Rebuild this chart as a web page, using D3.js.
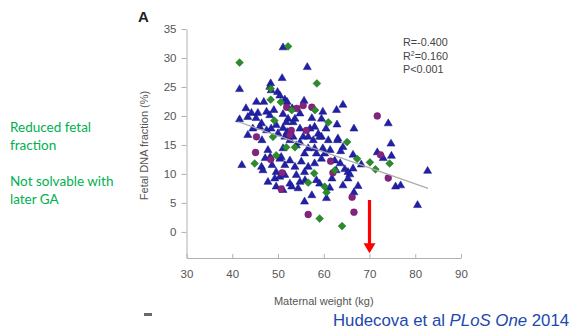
<!DOCTYPE html>
<html>
<head>
<meta charset="utf-8">
<script src="https://cdn.jsdelivr.net/npm/d3@7"></script>
<style>
  body { margin: 0; background: #fff; }
  svg { display: block; }
</style>
</head>
<body>
<div id="chart"></div>
<script>
// maternal weight (kg) / fetal DNA fraction (%) per group
const blueWeight = [51.1,56.4,50.9,41.6,48.4,48.2,48.5,49.9,50.4,45.3,46.9,51.5,52.0,55.7,59.8,44.2,45.6,43.4,47.5,48.2,
  51.1,52.2,53.7,51.8,53.3,41.6,59.5,46.4,46.0,44.5,43.4,47.5,48.5,49.6,54.8,58.0,58.8,59.5,53.3,56.6,
  64.2,62.8,62.9,66.6,74.1,63.1,54.8,57.4,50.0,51.1,51.5,55.5,57.7,59.1,56.6,58.0,55.8,58.4,59.8,60.2,
  50.4,50.7,42.1,46.4,46.7,52.6,55.1,53.7,56.6,55.8,58.0,59.5,49.6,49.3,50.4,51.5,54.0,54.8,52.6,53.0,
  58.4,59.1,49.6,54.4,60.6,55.8,48.7,51.5,47.8,61.4,63.0,64.2,63.7,74.7,62.4,66.4,68.2,71.7,73.0,74.8,
  64.6,65.3,65.7,66.4,65.3,82.7,61.3,64.2,67.5,75.7,76.8,66.6,80.5,63.6,62.7,52.6,54.0,51.1,54.8,57.0,
  60.5,61.0,45.2,49.1,53.1,43.0,46.5,47.8,51.1,57.4,48.3,52.0,61.8,55.9,47.2];
const blueFraction = [31.8,28.4,26.5,24.6,25.6,25.0,24.4,24.1,23.5,22.4,22.4,22.8,22.4,22.6,20.7,20.5,20.5,19.8,20.7,20.1,
  20.3,19.5,19.5,18.9,18.9,19.4,19.5,18.7,18.1,17.8,16.7,17.5,17.8,18.4,17.8,18.1,16.9,16.4,16.4,16.4,
  21.9,21.0,18.5,17.8,18.7,16.1,20.4,19.6,17.0,17.9,16.4,16.4,15.8,16.4,14.4,14.4,13.5,13.5,14.4,13.5,
  12.6,12.9,11.5,11.2,10.6,12.3,12.1,11.2,11.2,10.3,11.8,12.6,10.3,9.2,9.5,9.8,9.8,8.6,8.3,7.8,
  8.9,8.3,7.8,7.5,5.8,5.2,11.5,11.5,8.6,14.1,15.8,14.6,13.9,15.2,12.3,13.3,11.6,13.7,12.7,13.1,
  10.8,10.3,9.9,10.9,9.2,10.5,7.6,8.0,7.9,7.8,8.0,6.8,4.6,11.8,10.6,15.8,14.9,14.4,15.4,17.8,
  17.8,15.8,19.6,21.0,21.3,21.3,15.8,14.1,7.2,6.3,12.9,17.2,9.2,8.9,12.7];

const purpleWeight = [51.9,54.1,55.5,57.4,45.3,52.9,52.6,56.2,71.7,45.1,48.4,50.9,50.7,56.6,61.5,72.4,62.0,74.1,66.2,66.6];
const purpleFraction = [21.5,21.3,21.8,21.5,16.4,17.5,16.7,17.5,20.0,13.7,12.5,10.2,7.4,3.0,12.2,13.3,10.2,9.3,6.0,3.4];

const greenWeight = [52.2,41.6,58.5,48.4,48.4,50.6,53.0,58.1,49.2,61.0,48.9,51.8,53.7,49.6,44.9,57.9,56.6,60.2,60.6,59.1,
  65.1,67.3,70.1,74.4,71.3,62.4,64.0];
const greenFraction = [32.0,29.2,25.6,24.7,22.8,22.4,21.0,21.0,19.2,18.9,16.4,14.6,14.6,13.2,11.8,10.1,8.5,7.8,6.8,2.3,
  15.5,12.6,12.0,11.8,10.8,10.6,1.0];

// fitted line endpoints
const fitWeight = [41.3, 82.8];
const fitFraction = [19.0, 7.5];

const xTicks = [30, 40, 50, 60, 70, 80, 90];
const yTicks = [0, 5, 10, 15, 20, 25, 30, 35];
const statLines = ['R=-0.400', 'R2=0.160', 'P<0.001'];
const noteLines = [['Reduced fetal', 'fraction'], ['Not solvable with', 'later GA']];

const W = 573, H = 335;
const svg = d3.select('#chart').append('svg')
  .attr('width', W).attr('height', H)
  .style('font-family', '"Liberation Sans", Arial, Helvetica, sans-serif');

svg.append('rect').attr('width', W).attr('height', H).attr('fill', '#fff');

const x = d3.scaleLinear().domain([30, 90]).range([186.5, 461]);
const y = d3.scaleLinear().domain([-4.5, 35]).range([258, 29]);
const axisCol = '#b0b0b0', labelCol = '#555';

// axes
const gx = svg.append('g')
  .attr('transform', `translate(0,${y(-4.5)})`)
  .call(d3.axisBottom(x).tickValues(xTicks).tickSize(-4).tickPadding(12).tickSizeOuter(0));
const gy = svg.append('g')
  .attr('transform', `translate(${x(30)},0)`)
  .call(d3.axisLeft(y).tickValues(yTicks).tickSize(5).tickPadding(5).tickSizeOuter(0));
[gx, gy].forEach(g => {
  g.select('.domain').attr('stroke', axisCol);
  g.selectAll('.tick line').attr('stroke', axisCol);
  g.selectAll('.tick text').attr('fill', labelCol).style('font-size', '11.5px')
    .style('font-family', '"Liberation Sans", Arial, sans-serif');
});

svg.append('text')
  .attr('x', (x(30) + x(90)) / 2).attr('y', 305)
  .attr('text-anchor', 'middle').attr('fill', labelCol).style('font-size', '11px')
  .text('Maternal weight (kg)');

svg.append('text')
  .attr('transform', `translate(148,${(y(35) + y(-4.5)) / 2 + 2}) rotate(-90)`)
  .attr('text-anchor', 'middle').attr('fill', labelCol).style('font-size', '11px')
  .text('Fetal DNA fraction (%)');

svg.append('text')
  .attr('x', 138).attr('y', 22)
  .attr('fill', '#222').style('font-size', '15px').style('font-weight', 'bold')
  .text('A');

// points
const blue = blueWeight.map((w, i) => ({w, f: blueFraction[i]}));
const purple = purpleWeight.map((w, i) => ({w, f: purpleFraction[i]}));
const green = greenWeight.map((w, i) => ({w, f: greenFraction[i]}));

svg.append('g').selectAll('path')
  .data(blue).enter().append('path')
  .attr('d', d3.symbol(d3.symbolTriangle, 28))
  .attr('transform', d => `translate(${x(d.w)},${y(d.f)})`)
  .attr('fill', '#2020a8').attr('stroke', '#16167e').attr('stroke-width', 0.5);

svg.append('g').selectAll('circle')
  .data(purple).enter().append('circle')
  .attr('cx', d => x(d.w)).attr('cy', d => y(d.f)).attr('r', 3.4)
  .attr('fill', '#84247f').attr('stroke', '#661565').attr('stroke-width', 0.5);

svg.append('g').selectAll('path')
  .data(green).enter().append('path')
  .attr('d', d3.symbol(d3.symbolSquare, 30))
  .attr('transform', d => `translate(${x(d.w)},${y(d.f)}) rotate(45)`)
  .attr('fill', '#2a8c2a').attr('stroke', '#1c6a1c').attr('stroke-width', 0.5);

// regression line
svg.append('line')
  .attr('x1', x(fitWeight[0])).attr('y1', y(fitFraction[0]))
  .attr('x2', x(fitWeight[1])).attr('y2', y(fitFraction[1]))
  .attr('stroke', '#aaa').attr('stroke-width', 1.2);

// stats
const st = svg.append('text').attr('x', 403).attr('y', 46)
  .attr('fill', '#444').style('font-size', '10.8px');
statLines.forEach((s, i) => {
  const t = st.append('tspan').attr('x', 403).attr('y', 46 + i * 13.7);
  if (s.startsWith('R2')) {
    t.text('R');
    t.append('tspan').attr('dy', -4).style('font-size', '7px').text('2');
    t.append('tspan').attr('dy', 4).text(s.slice(2));
  } else {
    t.text(s);
  }
});

// red arrow at 70 kg
const ax = x(70), ay1 = y(5.5), ay2 = y(-3.7);
svg.append('line')
  .attr('x1', ax).attr('y1', ay1).attr('x2', ax).attr('y2', ay2 - 9)
  .attr('stroke', '#ff0000').attr('stroke-width', 3.2);
svg.append('path')
  .attr('d', `M${ax - 6},${ay2 - 10}L${ax + 6},${ay2 - 10}L${ax},${ay2}Z`)
  .attr('fill', '#ff0000');

// side notes
noteLines.forEach((lines, j) => {
  lines.forEach((s, i) => {
    svg.append('text')
      .attr('x', 10).attr('y', 131.5 + j * 54.5 + i * 18)
      .attr('fill', '#00b050').style('font-family', 'Lato, "Open Sans", sans-serif')
      .style('font-size', '13.5px')
      .text(s);
  });
});

// citation
const cite = svg.append('text').attr('x', 333).attr('y', 326)
  .attr('fill', '#2148ad').style('font-size', '16.8px')
  .style('font-family', '"Liberation Sans", Arial, sans-serif');
cite.append('tspan').text('Hudecova et al ');
cite.append('tspan').style('font-style', 'italic').text('PLoS One');
cite.append('tspan').text(' 2014');

// cut-off fragment at bottom left
svg.append('rect').attr('x', 144).attr('y', 313).attr('width', 8).attr('height', 3)
  .attr('fill', '#444').attr('opacity', 0.8);
</script>
</body>
</html>
